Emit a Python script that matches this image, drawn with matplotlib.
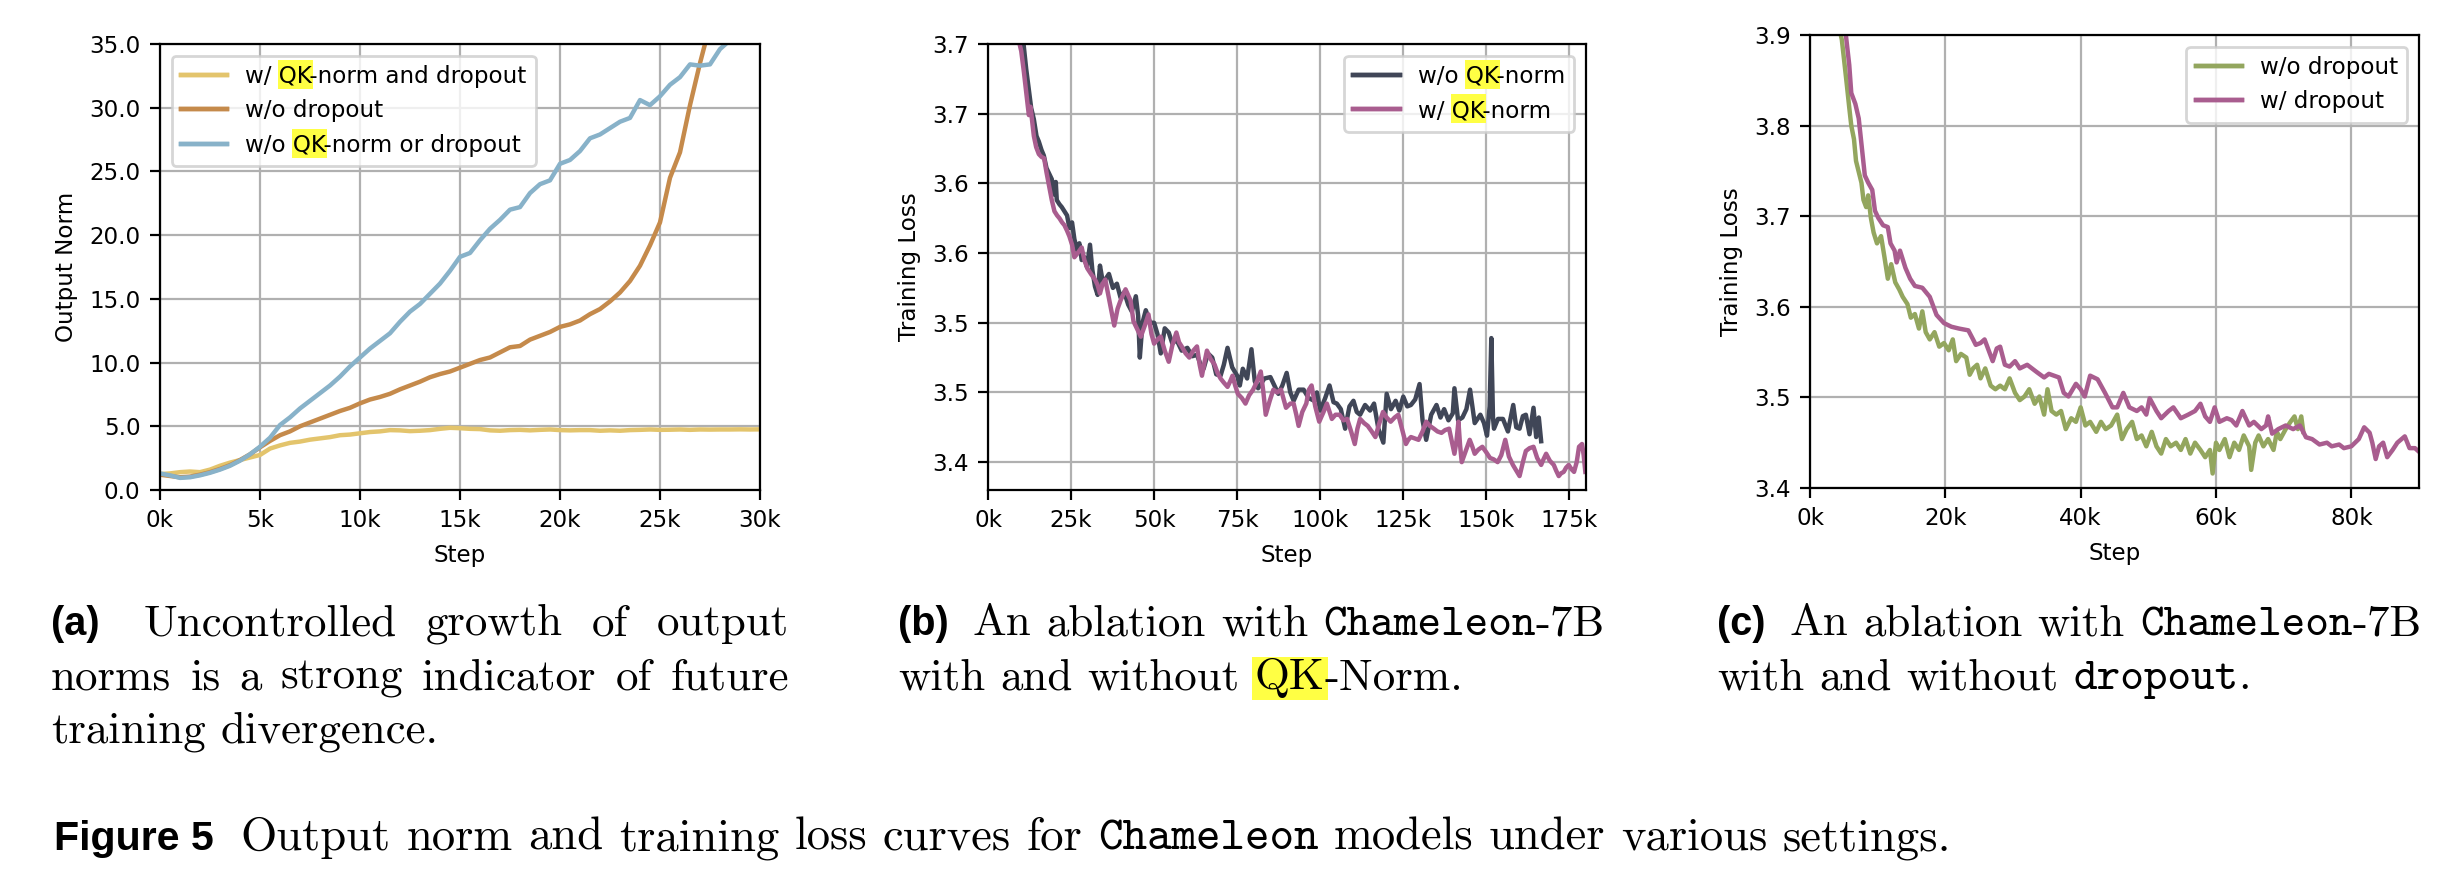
import numpy as np
import matplotlib
matplotlib.use("Agg")
import matplotlib.pyplot as plt
from matplotlib.patches import Rectangle
from matplotlib.font_manager import FontProperties
from matplotlib.ticker import FixedLocator, FixedFormatter, FuncFormatter, FormatStrFormatter
from matplotlib.transforms import IdentityTransform

W, H, DPI = 2464, 884, 200
LW = 1.6
HL = "#ffff44"
plt.rcParams["font.size"] = 8.3

YELLOW = "#e3c46c"
ORANGE = "#c58a4b"
BLUE = "#88b2c9"
DARK = "#404657"
PINK = "#a95d8f"
GREEN = "#93a65e"

# (a) output norm, sampled every 0.5k steps from 0k
A_STEP = np.arange(0, 30.5, 0.5)
A_QK_DROP = [1.25, 1.3, 1.4, 1.45, 1.4, 1.6, 1.9, 2.15, 2.35, 2.55, 2.75,
             3.25, 3.5, 3.7, 3.8, 3.95, 4.05, 4.15, 4.3, 4.35, 4.45,
             4.55, 4.6, 4.7, 4.68, 4.62, 4.65, 4.7, 4.8, 4.88, 4.85,
             4.8, 4.78, 4.68, 4.65, 4.7, 4.72, 4.68, 4.72, 4.75, 4.7,
             4.68, 4.7, 4.7, 4.65, 4.68, 4.65, 4.7, 4.72, 4.75, 4.72,
             4.73, 4.75, 4.72, 4.75, 4.74, 4.75, 4.75, 4.76, 4.75, 4.76]
A_NO_DROP = [1.2, 1.1, 1.0, 1.05, 1.2, 1.4, 1.65, 1.95, 2.35, 2.8,
             3.35, 3.85, 4.3, 4.6, 5.0, 5.3, 5.6, 5.9, 6.2, 6.45,
             6.8, 7.1, 7.3, 7.55, 7.9, 8.2, 8.5, 8.85, 9.1, 9.3,
             9.6, 9.9, 10.2, 10.4, 10.8, 11.2, 11.3, 11.8, 12.1, 12.4,
             12.8, 13.0, 13.3, 13.8, 14.2, 14.8, 15.5, 16.4, 17.6, 19.2,
             21.0, 24.5, 26.5, 30.2, 33.5, 36.5]
A_NO_QK_DROP = [1.3, 1.15, 0.95, 1.0, 1.15, 1.35, 1.6, 1.9, 2.3, 2.8,
                3.4, 4.1, 5.1, 5.7, 6.4, 7.0, 7.6, 8.2, 8.9, 9.7,
                10.4, 11.1, 11.7, 12.3, 13.2, 14.0, 14.6, 15.4, 16.2, 17.2,
                18.3, 18.6, 19.6, 20.5, 21.2, 22.0, 22.2, 23.3, 24.0, 24.3,
                25.6, 25.9, 26.6, 27.6, 27.9, 28.4, 28.9, 29.2, 30.6, 30.2,
                30.9, 31.8, 32.4, 33.4, 33.3, 33.4, 34.6, 35.3, 35.6]
A_LABELS = ["w/ QK-norm and dropout", "w/o dropout", "w/o QK-norm or dropout"]

# (b) training loss, steps in k
B_NOQK_STEP = [9.5, 10.7, 11.5, 12.3, 13.0, 13.8, 14.6, 15.3, 16.1, 16.8, 17.6, 18.4, 19.2, 19.8,
               20.4, 20.7, 21.5, 22.2, 23.0, 23.8, 24.5, 25.3, 26.0, 26.8, 27.5, 28.2, 29.0, 29.8,
               30.7, 31.4, 32.2, 33.0, 33.7, 34.5, 35.3, 36.4, 37.6, 38.8, 39.9, 41.0, 42.2, 43.3,
               44.5, 45.2, 45.7, 46.5, 47.5, 48.8, 50.0, 51.0, 52.0, 53.2, 54.4, 55.5, 56.7, 58.3,
               60.0, 61.5, 62.9, 64.0, 64.9, 66.2, 67.5, 68.7, 70.0, 71.0, 72.1, 73.5, 75.0, 75.8,
               76.7, 78.0, 79.3, 80.3, 81.3, 83.2, 85.0, 86.2, 87.4, 88.6, 89.9, 91.0, 92.0, 93.5,
               95.0, 96.5, 98.2, 99.0, 100.0, 101.5, 102.8, 104.0, 105.0, 106.2, 107.5, 108.8,
               110.0, 111.0, 112.0, 113.5, 115.0, 116.2, 117.5, 119.0, 120.0, 121.3, 122.7, 123.8,
               125.0, 126.2, 127.3, 128.6, 129.9, 130.8, 131.9, 133.4, 135.0, 136.2, 137.3, 138.6,
               139.9, 140.4, 141.5, 142.8, 144.0, 145.1, 146.5, 148.2, 149.3, 150.2, 151.0, 151.5,
               152.0, 152.3, 153.5, 155.0, 156.5, 158.1, 159.0, 160.0, 161.0, 161.9, 163.0, 164.2,
               165.0, 165.8, 166.5]
B_NOQK_LOSS = [3.705, 3.700, 3.682, 3.667, 3.654, 3.646, 3.634, 3.630, 3.624, 3.620, 3.611, 3.607, 3.603, 3.592,
               3.601, 3.588, 3.585, 3.583, 3.580, 3.577, 3.568, 3.572, 3.560, 3.552, 3.557, 3.545, 3.547, 3.540,
               3.556, 3.538, 3.526, 3.520, 3.541, 3.530, 3.531, 3.535, 3.525, 3.528, 3.518, 3.522, 3.513, 3.508,
               3.519, 3.505, 3.475, 3.500, 3.509, 3.500, 3.500, 3.492, 3.478, 3.496, 3.493, 3.485, 3.488, 3.480,
               3.482, 3.476, 3.477, 3.470, 3.467, 3.478, 3.475, 3.463, 3.462, 3.470, 3.482, 3.468, 3.462, 3.455,
               3.467, 3.460, 3.481, 3.458, 3.453, 3.460, 3.461, 3.455, 3.449, 3.455, 3.464, 3.450, 3.444, 3.452,
               3.452, 3.446, 3.444, 3.450, 3.437, 3.446, 3.455, 3.443, 3.442, 3.438, 3.424, 3.440,
               3.444, 3.436, 3.434, 3.441, 3.437, 3.442, 3.424, 3.414, 3.449, 3.438, 3.444, 3.437,
               3.447, 3.440, 3.441, 3.445, 3.456, 3.430, 3.416, 3.434, 3.441, 3.432, 3.438, 3.430,
               3.435, 3.453, 3.430, 3.432, 3.438, 3.452, 3.428, 3.434, 3.428, 3.419, 3.440, 3.489,
               3.432, 3.424, 3.431, 3.431, 3.422, 3.441, 3.425, 3.424, 3.433, 3.434, 3.420, 3.439,
               3.418, 3.432, 3.415]
B_QK_STEP = [9.0, 10.0, 10.8, 11.5, 12.0, 12.3, 12.8, 13.8, 14.5, 15.3, 16.1, 16.9, 17.6, 18.4, 19.2,
             20.0, 20.8, 21.5, 22.3, 23.0, 23.8, 24.5, 25.3, 26.0, 27.0, 28.2, 29.0, 29.9, 31.0, 32.2,
             33.0, 33.7, 34.5, 35.3, 36.6, 38.0, 39.0, 39.9, 41.4, 42.9, 43.8, 45.0, 46.0, 47.2, 48.3,
             49.2, 50.0, 51.0, 52.0, 53.2, 54.4, 55.5, 56.7, 57.5, 58.3, 59.5, 60.6, 61.8, 62.9, 63.7,
             64.4, 65.2, 65.9, 67.0, 68.2, 69.1, 70.0, 71.0, 72.1, 72.9, 73.6, 74.4, 75.2, 76.4, 77.5,
             78.6, 79.8, 81.0, 82.1, 82.9, 83.6, 84.8, 85.9, 87.0, 88.2, 89.0, 89.7, 91.0, 92.0, 92.8,
             93.5, 94.6, 95.8, 96.6, 97.4, 98.5, 99.7, 101.0, 102.0, 103.5, 104.6, 105.8, 107.0, 108.1,
             109.3, 110.4, 111.2, 112.0, 113.2, 114.3, 115.5, 116.6, 117.8, 118.9, 120.0, 121.2, 122.4,
             123.5, 124.6, 125.8, 126.5, 127.3, 128.5, 129.6, 130.8, 131.9, 133.0, 134.2, 135.3, 136.5,
             137.6, 138.8, 139.6, 140.4, 141.0, 141.6, 142.1, 142.6, 143.8, 145.0, 145.8, 146.5, 147.6,
             148.8, 150.0, 151.1, 152.2, 153.4, 154.5, 155.7, 156.8, 158.0, 159.0, 160.0, 161.0, 161.9,
             163.0, 164.2, 165.3, 166.5, 167.2, 168.0, 169.1, 170.3, 171.0, 171.8, 172.5, 173.3, 174.0,
             174.8, 175.6, 176.4, 177.2, 177.9, 178.8, 179.3, 179.8]
B_QK_LOSS = [3.705, 3.695, 3.680, 3.665, 3.655, 3.649, 3.655, 3.634, 3.626, 3.621, 3.619, 3.618, 3.608, 3.598, 3.588,
             3.580, 3.577, 3.575, 3.572, 3.570, 3.566, 3.562, 3.556, 3.547, 3.550, 3.554, 3.545, 3.539, 3.535, 3.531,
             3.527, 3.521, 3.528, 3.531, 3.515, 3.498, 3.510, 3.516, 3.524, 3.516, 3.501, 3.495, 3.490, 3.498, 3.506,
             3.492, 3.485, 3.488, 3.490, 3.480, 3.472, 3.484, 3.493, 3.486, 3.483, 3.478, 3.475, 3.480, 3.483, 3.470,
             3.462, 3.472, 3.480, 3.474, 3.470, 3.464, 3.460, 3.457, 3.454, 3.458, 3.462, 3.455, 3.449, 3.446, 3.442,
             3.448, 3.452, 3.458, 3.465, 3.450, 3.434, 3.444, 3.452, 3.450, 3.452, 3.445, 3.439, 3.442, 3.442, 3.434,
             3.426, 3.436, 3.442, 3.452, 3.455, 3.440, 3.429, 3.436, 3.442, 3.431, 3.434, 3.434, 3.430, 3.431,
             3.422, 3.413, 3.424, 3.431, 3.428, 3.426, 3.422, 3.418, 3.428, 3.436, 3.432, 3.429, 3.432,
             3.434, 3.424, 3.413, 3.416, 3.418, 3.417, 3.416, 3.422, 3.429, 3.426, 3.424, 3.422, 3.421,
             3.423, 3.424, 3.415, 3.406, 3.415, 3.429, 3.412, 3.400, 3.408, 3.416, 3.411, 3.406, 3.409,
             3.411, 3.407, 3.403, 3.402, 3.400, 3.405, 3.416, 3.404, 3.398, 3.394, 3.390, 3.400, 3.408,
             3.410, 3.411, 3.403, 3.398, 3.402, 3.406, 3.401, 3.398, 3.394, 3.390, 3.392, 3.393, 3.396,
             3.398, 3.395, 3.393, 3.400, 3.411, 3.413, 3.405, 3.393]
B_LABELS = ["w/o QK-norm", "w/ QK-norm"]
B_YTICKS = [3.40, 3.45, 3.50, 3.55, 3.60, 3.65, 3.70]
B_YTICK_LABELS = ["3.4", "3.5", "3.5", "3.6", "3.6", "3.7", "3.7"]

# (c) training loss, steps in k
C_NODROP_STEP = [4.4, 4.7, 5.0, 5.4, 5.8, 6.1, 6.5, 6.8, 7.2, 7.6, 7.9, 8.3, 8.6, 9.0, 9.4, 9.9,
                 10.5, 11.0, 11.5, 12.0, 12.6, 13.2, 13.7, 14.4, 14.9, 15.5, 16.1, 16.6, 17.1, 17.7,
                 18.4, 19.1, 19.8, 20.5, 21.1, 21.6, 22.3, 23.1, 23.6, 24.1, 24.7, 25.2, 25.9, 26.7,
                 27.4, 28.1, 28.8, 29.5, 30.3, 31.0, 31.7, 32.4, 33.2, 33.9, 34.6, 35.1, 35.7, 36.4,
                 37.1, 37.8, 38.6, 39.3, 40.0, 40.7, 41.4, 42.3, 43.0, 43.7, 44.5, 45.4, 46.1, 46.8,
                 47.6, 48.3, 49.0, 49.7, 50.5, 51.2, 51.9, 52.6, 53.3, 54.1, 54.8, 55.5, 56.2, 56.9,
                 57.7, 58.4, 59.1, 59.5, 60.0, 60.5, 61.3, 62.0, 62.7, 63.4, 64.1, 64.9, 65.2, 65.8,
                 66.3, 67.0, 67.7, 68.5, 69.0, 69.5, 70.3, 71.0, 71.6, 72.1, 72.6, 72.9]
C_NODROP_LOSS = [3.905, 3.895, 3.875, 3.848, 3.820, 3.800, 3.785, 3.761, 3.749, 3.737, 3.718, 3.710, 3.723, 3.698, 3.682, 3.670,
                 3.678, 3.655, 3.631, 3.647, 3.627, 3.619, 3.611, 3.603, 3.588, 3.592, 3.576, 3.595, 3.572, 3.564,
                 3.572, 3.556, 3.560, 3.552, 3.564, 3.540, 3.548, 3.544, 3.525, 3.532, 3.536, 3.521, 3.532, 3.513,
                 3.509, 3.513, 3.509, 3.521, 3.505, 3.497, 3.501, 3.509, 3.493, 3.501, 3.481, 3.509, 3.485, 3.481,
                 3.485, 3.465, 3.477, 3.473, 3.489, 3.469, 3.473, 3.462, 3.473, 3.465, 3.469, 3.481, 3.454, 3.465,
                 3.473, 3.454, 3.458, 3.446, 3.462, 3.446, 3.438, 3.454, 3.446, 3.450, 3.442, 3.454, 3.438, 3.450,
                 3.442, 3.434, 3.442, 3.416, 3.450, 3.442, 3.454, 3.434, 3.450, 3.442, 3.458, 3.446, 3.420, 3.450,
                 3.458, 3.446, 3.454, 3.442, 3.462, 3.454, 3.465, 3.473, 3.479, 3.465, 3.479, 3.462]
C_DROP_STEP = [5.0, 5.3, 5.8, 6.1, 6.7, 7.2, 7.7, 8.1, 8.6, 9.2, 9.6, 10.1, 10.8, 11.5, 11.9, 12.5,
               12.8, 13.3, 14.1, 14.8, 15.5, 16.6, 17.7, 18.7, 19.8, 20.9, 22.0, 23.4, 24.1, 24.5,
               25.2, 25.8, 26.3, 27.0, 27.6, 28.1, 28.8, 29.5, 30.3, 31.0, 32.1, 33.5, 34.6, 35.3,
               36.8, 37.5, 38.2, 39.3, 40.0, 40.6, 41.4, 42.5, 43.6, 44.7, 45.4, 46.3, 47.2, 48.3,
               49.0, 49.7, 50.2, 51.2, 51.9, 53.0, 53.7, 54.8, 55.9, 56.9, 57.7, 58.4, 59.1, 59.8,
               60.5, 61.6, 62.3, 63.0, 63.9, 64.9, 65.6, 66.7, 67.4, 67.7, 68.3, 69.2, 70.3, 71.4,
               72.4, 73.3, 74.2, 75.3, 76.4, 77.1, 78.2, 78.9, 80.0, 81.1, 81.9, 82.7, 83.1, 83.6,
               84.1, 84.7, 85.3, 86.1, 86.8, 87.9, 88.6, 89.4, 90.0]
C_DROP_LOSS = [3.910, 3.900, 3.867, 3.836, 3.824, 3.808, 3.773, 3.745, 3.737, 3.729, 3.706, 3.698, 3.690, 3.688, 3.670, 3.662,
               3.649, 3.662, 3.643, 3.631, 3.623, 3.621, 3.611, 3.591, 3.582, 3.578, 3.576, 3.574, 3.564, 3.558,
               3.560, 3.564, 3.554, 3.540, 3.554, 3.556, 3.536, 3.534, 3.540, 3.532, 3.536, 3.528, 3.522, 3.526,
               3.522, 3.505, 3.501, 3.515, 3.509, 3.501, 3.524, 3.520, 3.505, 3.489, 3.489, 3.505, 3.489, 3.485,
               3.489, 3.481, 3.499, 3.485, 3.477, 3.485, 3.489, 3.477, 3.481, 3.485, 3.493, 3.479, 3.473, 3.489,
               3.473, 3.477, 3.475, 3.469, 3.485, 3.469, 3.473, 3.465, 3.469, 3.479, 3.460, 3.465, 3.469, 3.465,
               3.469, 3.456, 3.454, 3.448, 3.450, 3.446, 3.448, 3.444, 3.446, 3.454, 3.467, 3.461, 3.450, 3.432,
               3.446, 3.450, 3.434, 3.442, 3.450, 3.457, 3.444, 3.444, 3.440]
C_LABELS = ["w/o dropout", "w/ dropout"]

# sub-caption fonts and (slightly larger) main caption fonts
RM = FontProperties(family="cmr10", size=16.2)
TT = FontProperties(family="cmtt10", size=16.2)
BF = FontProperties(family=["Liberation Sans", "DejaVu Sans"], weight="bold", size=14.3)
RM2 = FontProperties(family="cmr10", size=16.8)
TT2 = FontProperties(family="cmtt10", size=16.8)
BF2 = FontProperties(family=["Liberation Sans", "DejaVu Sans"], weight="bold", size=14.8)


def k_fmt(v, pos):
    return f"{v:.0f}k"


def adv(s, prop, renderer):
    w1, _, _ = renderer.get_text_width_height_descent("I" + s + "I", prop, ismath=False)
    w0, _, _ = renderer.get_text_width_height_descent("II", prop, ismath=False)
    return w1 - w0


def make_legend(ax, loc):
    # frame legend underneath, text-only legend on top, highlight boxes go between
    back = ax.legend(loc=loc)
    for t in back.get_texts():
        t.set_color("none")
    back.set_zorder(4)
    ax.add_artist(back)
    front = ax.legend(loc=loc, frameon=False)
    front.set_zorder(6)
    return front


def mark_qk(ax, leg, renderer):
    for t in leg.get_texts():
        s = t.get_text()
        i = s.find("QK")
        if i < 0:
            continue
        prop = t.get_fontproperties()
        ext = t.get_window_extent(renderer)
        x0 = ext.x0 + adv(s[:i], prop, renderer)
        w = adv("QK", prop, renderer)
        ax.add_artist(Rectangle((x0 - 1, ext.y0 - 1), w + 2, ext.height + 6,
                                transform=IdentityTransform(), facecolor=HL,
                                edgecolor="none", zorder=5))


def draw_line(fig, renderer, x, y, words, first_gap=None, width=None, space_prop=RM):
    advs = [[adv(t, p, renderer) for t, p, hl in w] for w in words]
    word_w = [sum(a) for a in advs]
    space = adv(" ", space_prop, renderer)
    n = len(words)
    gaps = [space] * (n - 1)
    fixed = []
    if first_gap is not None:
        gaps[0] = first_gap
        fixed.append(0)
    if width is not None:
        free = [i for i in range(n - 1) if i not in fixed]
        rest = width - sum(word_w) - sum(gaps[i] for i in fixed)
        for i in free:
            gaps[i] = rest / len(free)
    for k, (w, a) in enumerate(zip(words, advs)):
        cx = x
        for (t, p, hl), aa in zip(w, a):
            if hl:
                fig.add_artist(Rectangle((cx - 3, y - 11), aa + 6, 43, transform=IdentityTransform(),
                                         facecolor=HL, edgecolor="none", zorder=1))
            fig.text(cx, y, t, fontproperties=p, transform=IdentityTransform(),
                     ha="left", va="baseline", zorder=2)
            cx += aa
        if k < n - 1:
            x = cx + gaps[k]


def rm_words(s, prop=RM):
    return [[(w, prop, False)] for w in s.split()]


fig = plt.figure(figsize=(W / DPI, H / DPI), dpi=DPI)
ax_a = fig.add_axes([160 / W, 1 - 490 / H, 600 / W, 446 / H])
ax_b = fig.add_axes([988 / W, 1 - 490 / H, 598 / W, 446 / H])
ax_c = fig.add_axes([1810 / W, 1 - 488 / H, 609 / W, 453 / H])

ax_a.plot(A_STEP[:len(A_QK_DROP)], A_QK_DROP, color=YELLOW, lw=LW, label=A_LABELS[0])
ax_a.plot(A_STEP[:len(A_NO_DROP)], A_NO_DROP, color=ORANGE, lw=LW, label=A_LABELS[1])
ax_a.plot(A_STEP[:len(A_NO_QK_DROP)], A_NO_QK_DROP, color=BLUE, lw=LW, label=A_LABELS[2])
ax_a.set_xlim(0, 30)
ax_a.set_ylim(0, 35)
ax_a.set_xticks(range(0, 31, 5))
ax_a.set_yticks(range(0, 36, 5))
ax_a.yaxis.set_major_formatter(FormatStrFormatter("%.1f"))
ax_a.set_ylabel("Output Norm")
leg_a = make_legend(ax_a, "upper left")

ax_b.plot(B_NOQK_STEP, B_NOQK_LOSS, color=DARK, lw=LW, label=B_LABELS[0])
ax_b.plot(B_QK_STEP, B_QK_LOSS, color=PINK, lw=LW, label=B_LABELS[1])
ax_b.set_xlim(0, 180)
ax_b.set_ylim(3.38, 3.70)
ax_b.set_xticks(range(0, 176, 25))
ax_b.yaxis.set_major_locator(FixedLocator(B_YTICKS))
ax_b.yaxis.set_major_formatter(FixedFormatter(B_YTICK_LABELS))
ax_b.set_ylabel("Training Loss")
leg_b = make_legend(ax_b, "upper right")

ax_c.plot(C_NODROP_STEP, C_NODROP_LOSS, color=GREEN, lw=LW, label=C_LABELS[0])
ax_c.plot(C_DROP_STEP, C_DROP_LOSS, color=PINK, lw=LW, label=C_LABELS[1])
ax_c.set_xlim(0, 90)
ax_c.set_ylim(3.4, 3.9)
ax_c.set_xticks(range(0, 81, 20))
ax_c.set_yticks([3.4, 3.5, 3.6, 3.7, 3.8, 3.9])
ax_c.yaxis.set_major_formatter(FormatStrFormatter("%.1f"))
ax_c.set_ylabel("Training Loss")
make_legend(ax_c, "upper right")

for ax in (ax_a, ax_b, ax_c):
    ax.xaxis.set_major_formatter(FuncFormatter(k_fmt))
    ax.set_xlabel("Step")
    ax.grid(True)

fig.canvas.draw()
renderer = fig.canvas.get_renderer()
mark_qk(ax_a, leg_a, renderer)
mark_qk(ax_b, leg_b, renderer)

# sub-captions (baselines in pixels from the bottom)
y1, y2, y3 = H - 635, H - 689, H - 743
draw_line(fig, renderer, 51, y1, [[("(a)", BF, False)]] + rm_words("Uncontrolled growth of output"),
          first_gap=44, width=738)
draw_line(fig, renderer, 51, y2, rm_words("norms is a strong indicator of future"), width=738)
draw_line(fig, renderer, 51, y3, rm_words("training divergence."))

draw_line(fig, renderer, 898, y1,
          [[("(b)", BF, False)]] + rm_words("An ablation with") + [[("Chameleon", TT, False), ("-7B", RM, False)]],
          first_gap=24)
draw_line(fig, renderer, 898, y2,
          rm_words("with and without") + [[("QK", RM, True), ("-Norm.", RM, False)]])

draw_line(fig, renderer, 1717, y1,
          [[("(c)", BF, False)]] + rm_words("An ablation with") + [[("Chameleon", TT, False), ("-7B", RM, False)]],
          first_gap=24)
draw_line(fig, renderer, 1717, y2,
          rm_words("with and without") + [[("dropout", TT, False), (".", RM, False)]])

draw_line(fig, renderer, 54, H - 850,
          [[("Figure 5", BF2, False)]] + rm_words("Output norm and training loss curves for", RM2)
          + [[("Chameleon", TT2, False)]] + rm_words("models under various settings.", RM2),
          first_gap=27, space_prop=RM2)

fig.savefig("out.png", dpi=DPI)
